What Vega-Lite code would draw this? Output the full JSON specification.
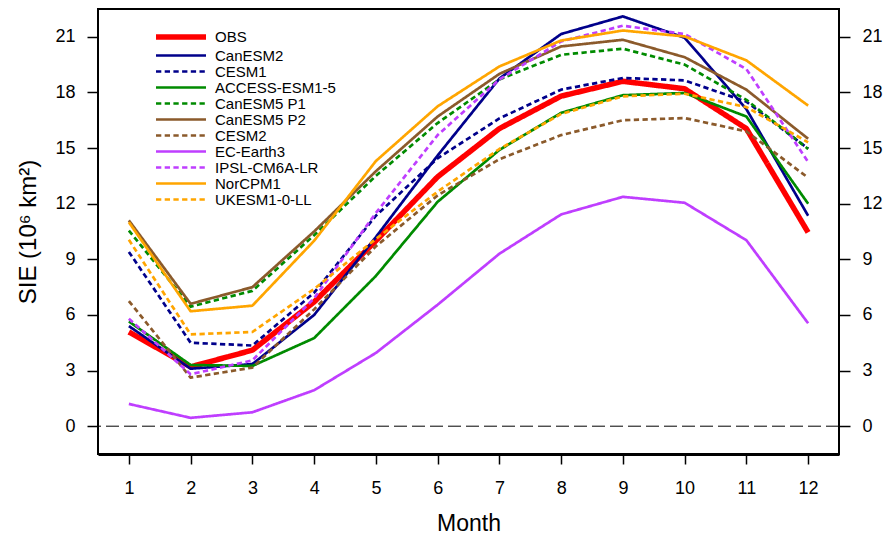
{
  "$schema": "https://vega.github.io/schema/vega-lite/v6.json",
  "width": 741,
  "height": 445,
  "autosize": {"type": "none"},
  "padding": {"left": 98, "top": 9, "right": 52, "bottom": 87},
  "background": "white",
  "config": {
    "font": "Liberation Sans",
    "view": {"stroke": "black", "strokeWidth": 2},
    "axis": {"grid": false, "labelColor": "black", "titleColor": "black", "tickColor": "black", "domainColor": "black", "labelFont": "Liberation Sans", "titleFont": "Liberation Sans", "titleFontWeight": "normal"}
  },
  "datasets": {
    "sie": [
      {"model": "OBS", "month": 1, "sie": 5.08}, {"model": "OBS", "month": 2, "sie": 3.2}, {"model": "OBS", "month": 3, "sie": 4.1}, {"model": "OBS", "month": 4, "sie": 6.7}, {"model": "OBS", "month": 5, "sie": 10.0}, {"model": "OBS", "month": 6, "sie": 13.45}, {"model": "OBS", "month": 7, "sie": 16.05}, {"model": "OBS", "month": 8, "sie": 17.8}, {"model": "OBS", "month": 9, "sie": 18.6}, {"model": "OBS", "month": 10, "sie": 18.2}, {"model": "OBS", "month": 11, "sie": 16.05}, {"model": "OBS", "month": 12, "sie": 10.45},
      {"model": "CanESM2", "month": 1, "sie": 5.4}, {"model": "CanESM2", "month": 2, "sie": 3.1}, {"model": "CanESM2", "month": 3, "sie": 3.35}, {"model": "CanESM2", "month": 4, "sie": 6.0}, {"model": "CanESM2", "month": 5, "sie": 10.2}, {"model": "CanESM2", "month": 6, "sie": 14.6}, {"model": "CanESM2", "month": 7, "sie": 18.75}, {"model": "CanESM2", "month": 8, "sie": 21.15}, {"model": "CanESM2", "month": 9, "sie": 22.1}, {"model": "CanESM2", "month": 10, "sie": 20.95}, {"model": "CanESM2", "month": 11, "sie": 17.1}, {"model": "CanESM2", "month": 12, "sie": 11.35},
      {"model": "CESM1", "month": 1, "sie": 9.4}, {"model": "CESM1", "month": 2, "sie": 4.5}, {"model": "CESM1", "month": 3, "sie": 4.35}, {"model": "CESM1", "month": 4, "sie": 7.2}, {"model": "CESM1", "month": 5, "sie": 11.35}, {"model": "CESM1", "month": 6, "sie": 14.45}, {"model": "CESM1", "month": 7, "sie": 16.6}, {"model": "CESM1", "month": 8, "sie": 18.15}, {"model": "CESM1", "month": 9, "sie": 18.78}, {"model": "CESM1", "month": 10, "sie": 18.65}, {"model": "CESM1", "month": 11, "sie": 17.5}, {"model": "CESM1", "month": 12, "sie": 14.97},
      {"model": "ACCESS-ESM1-5", "month": 1, "sie": 5.65}, {"model": "ACCESS-ESM1-5", "month": 2, "sie": 3.3}, {"model": "ACCESS-ESM1-5", "month": 3, "sie": 3.25}, {"model": "ACCESS-ESM1-5", "month": 4, "sie": 4.75}, {"model": "ACCESS-ESM1-5", "month": 5, "sie": 8.1}, {"model": "ACCESS-ESM1-5", "month": 6, "sie": 12.1}, {"model": "ACCESS-ESM1-5", "month": 7, "sie": 14.9}, {"model": "ACCESS-ESM1-5", "month": 8, "sie": 16.9}, {"model": "ACCESS-ESM1-5", "month": 9, "sie": 17.85}, {"model": "ACCESS-ESM1-5", "month": 10, "sie": 17.97}, {"model": "ACCESS-ESM1-5", "month": 11, "sie": 16.7}, {"model": "ACCESS-ESM1-5", "month": 12, "sie": 12.0},
      {"model": "CanESM5 P1", "month": 1, "sie": 10.55}, {"model": "CanESM5 P1", "month": 2, "sie": 6.45}, {"model": "CanESM5 P1", "month": 3, "sie": 7.3}, {"model": "CanESM5 P1", "month": 4, "sie": 10.3}, {"model": "CanESM5 P1", "month": 5, "sie": 13.5}, {"model": "CanESM5 P1", "month": 6, "sie": 16.35}, {"model": "CanESM5 P1", "month": 7, "sie": 18.7}, {"model": "CanESM5 P1", "month": 8, "sie": 20.03}, {"model": "CanESM5 P1", "month": 9, "sie": 20.36}, {"model": "CanESM5 P1", "month": 10, "sie": 19.5}, {"model": "CanESM5 P1", "month": 11, "sie": 17.6}, {"model": "CanESM5 P1", "month": 12, "sie": 14.95},
      {"model": "CanESM5 P2", "month": 1, "sie": 11.1}, {"model": "CanESM5 P2", "month": 2, "sie": 6.6}, {"model": "CanESM5 P2", "month": 3, "sie": 7.5}, {"model": "CanESM5 P2", "month": 4, "sie": 10.5}, {"model": "CanESM5 P2", "month": 5, "sie": 13.75}, {"model": "CanESM5 P2", "month": 6, "sie": 16.7}, {"model": "CanESM5 P2", "month": 7, "sie": 19.0}, {"model": "CanESM5 P2", "month": 8, "sie": 20.48}, {"model": "CanESM5 P2", "month": 9, "sie": 20.84}, {"model": "CanESM5 P2", "month": 10, "sie": 19.9}, {"model": "CanESM5 P2", "month": 11, "sie": 18.15}, {"model": "CanESM5 P2", "month": 12, "sie": 15.5},
      {"model": "CESM2", "month": 1, "sie": 6.75}, {"model": "CESM2", "month": 2, "sie": 2.62}, {"model": "CESM2", "month": 3, "sie": 3.16}, {"model": "CESM2", "month": 4, "sie": 6.3}, {"model": "CESM2", "month": 5, "sie": 9.7}, {"model": "CESM2", "month": 6, "sie": 12.45}, {"model": "CESM2", "month": 7, "sie": 14.4}, {"model": "CESM2", "month": 8, "sie": 15.7}, {"model": "CESM2", "month": 9, "sie": 16.5}, {"model": "CESM2", "month": 10, "sie": 16.62}, {"model": "CESM2", "month": 11, "sie": 15.9}, {"model": "CESM2", "month": 12, "sie": 13.4},
      {"model": "EC-Earth3", "month": 1, "sie": 1.2}, {"model": "EC-Earth3", "month": 2, "sie": 0.45}, {"model": "EC-Earth3", "month": 3, "sie": 0.75}, {"model": "EC-Earth3", "month": 4, "sie": 1.94}, {"model": "EC-Earth3", "month": 5, "sie": 3.95}, {"model": "EC-Earth3", "month": 6, "sie": 6.55}, {"model": "EC-Earth3", "month": 7, "sie": 9.3}, {"model": "EC-Earth3", "month": 8, "sie": 11.42}, {"model": "EC-Earth3", "month": 9, "sie": 12.37}, {"model": "EC-Earth3", "month": 10, "sie": 12.05}, {"model": "EC-Earth3", "month": 11, "sie": 10.03}, {"model": "EC-Earth3", "month": 12, "sie": 5.55},
      {"model": "IPSL-CM6A-LR", "month": 1, "sie": 5.8}, {"model": "IPSL-CM6A-LR", "month": 2, "sie": 2.8}, {"model": "IPSL-CM6A-LR", "month": 3, "sie": 3.55}, {"model": "IPSL-CM6A-LR", "month": 4, "sie": 6.9}, {"model": "IPSL-CM6A-LR", "month": 5, "sie": 11.5}, {"model": "IPSL-CM6A-LR", "month": 6, "sie": 15.7}, {"model": "IPSL-CM6A-LR", "month": 7, "sie": 18.7}, {"model": "IPSL-CM6A-LR", "month": 8, "sie": 20.75}, {"model": "IPSL-CM6A-LR", "month": 9, "sie": 21.6}, {"model": "IPSL-CM6A-LR", "month": 10, "sie": 21.15}, {"model": "IPSL-CM6A-LR", "month": 11, "sie": 19.26}, {"model": "IPSL-CM6A-LR", "month": 12, "sie": 14.25},
      {"model": "NorCPM1", "month": 1, "sie": 11.0}, {"model": "NorCPM1", "month": 2, "sie": 6.2}, {"model": "NorCPM1", "month": 3, "sie": 6.5}, {"model": "NorCPM1", "month": 4, "sie": 10.0}, {"model": "NorCPM1", "month": 5, "sie": 14.3}, {"model": "NorCPM1", "month": 6, "sie": 17.25}, {"model": "NorCPM1", "month": 7, "sie": 19.4}, {"model": "NorCPM1", "month": 8, "sie": 20.8}, {"model": "NorCPM1", "month": 9, "sie": 21.34}, {"model": "NorCPM1", "month": 10, "sie": 21.02}, {"model": "NorCPM1", "month": 11, "sie": 19.73}, {"model": "NorCPM1", "month": 12, "sie": 17.29},
      {"model": "UKESM1-0-LL", "month": 1, "sie": 10.05}, {"model": "UKESM1-0-LL", "month": 2, "sie": 4.95}, {"model": "UKESM1-0-LL", "month": 3, "sie": 5.08}, {"model": "UKESM1-0-LL", "month": 4, "sie": 7.4}, {"model": "UKESM1-0-LL", "month": 5, "sie": 10.1}, {"model": "UKESM1-0-LL", "month": 6, "sie": 12.65}, {"model": "UKESM1-0-LL", "month": 7, "sie": 14.95}, {"model": "UKESM1-0-LL", "month": 8, "sie": 16.84}, {"model": "UKESM1-0-LL", "month": 9, "sie": 17.79}, {"model": "UKESM1-0-LL", "month": 10, "sie": 17.93}, {"model": "UKESM1-0-LL", "month": 11, "sie": 17.21}, {"model": "UKESM1-0-LL", "month": 12, "sie": 15.31}
    ],
    "zero": [{"value": 0}]
  },
  "layer": [
    {
      "data": {"name": "sie"},
      "mark": {"type": "line", "strokeCap": "butt", "strokeJoin": "round"},
      "encoding": {
        "x": {
          "field": "month", "type": "quantitative",
          "scale": {"domain": [0.5, 12.5], "nice": false, "zero": false},
          "axis": {"values": [1,2,3,4,5,6,7,8,9,10,11,12], "title": "Month", "titleFontSize": 23, "titlePadding": 15, "labelFontSize": 18, "labelPadding": 15, "tickSize": 10, "tickWidth": 1.5, "domain": true, "domainWidth": 3, "labelFlush": false}
        },
        "y": {
          "field": "sie", "type": "quantitative",
          "scale": {"domain": [-1.5, 22.5], "nice": false, "zero": false},
          "axis": {"values": [0,3,6,9,12,15,18,21], "title": "SIE (10⁶ km²)", "titleFontSize": 24, "titlePadding": 14, "labelFontSize": 18, "labelPadding": 12, "tickSize": 11, "tickWidth": 1.5, "domain": false, "labelFlush": false}
        },
        "color": {
          "field": "model", "type": "nominal",
          "scale": {
            "domain": ["OBS", "CanESM2", "CESM1", "ACCESS-ESM1-5", "CanESM5 P1", "CanESM5 P2", "CESM2", "EC-Earth3", "IPSL-CM6A-LR", "NorCPM1", "UKESM1-0-LL"],
            "range": ["#ff0000", "#00008b", "#00008b", "#008b00", "#008b00", "#8b5a2b", "#8b5a2b", "#bf3eff", "#bf3eff", "#ffa500", "#ffa500"]
          },
          "legend": {
            "title": null, "orient": "none", "legendX": 55, "legendY": 20,
            "symbolType": "M-1,0H9", "symbolSize": 100, "labelFontSize": 15, "labelOffset": 46,
            "rowPadding": -0.4, "padding": 0, "labelColor": "black", "labelFont": "Liberation Sans", "symbolOpacity": 1
          }
        },
        "strokeDash": {
          "field": "model", "type": "nominal",
          "scale": {
            "domain": ["OBS", "CanESM2", "CESM1", "ACCESS-ESM1-5", "CanESM5 P1", "CanESM5 P2", "CESM2", "EC-Earth3", "IPSL-CM6A-LR", "NorCPM1", "UKESM1-0-LL"],
            "range": [[1, 0], [1, 0], [5.3, 3.4], [1, 0], [5.3, 3.4], [1, 0], [5.3, 3.4], [1, 0], [5.3, 3.4], [1, 0], [5.3, 3.4]]
          },
          "legend": {
            "title": null, "orient": "none", "legendX": 55, "legendY": 20,
            "symbolType": "M-1,0H9", "symbolSize": 100, "labelFontSize": 15, "labelOffset": 46,
            "rowPadding": -0.4, "padding": 0
          }
        },
        "strokeWidth": {
          "field": "model", "type": "nominal",
          "scale": {
            "type": "ordinal",
            "domain": ["OBS", "CanESM2", "CESM1", "ACCESS-ESM1-5", "CanESM5 P1", "CanESM5 P2", "CESM2", "EC-Earth3", "IPSL-CM6A-LR", "NorCPM1", "UKESM1-0-LL"],
            "range": [5.5, 2.7, 2.7, 2.7, 2.7, 2.7, 2.7, 2.7, 2.7, 2.7, 2.7]
          },
          "legend": {
            "title": null, "orient": "none", "legendX": 55, "legendY": 20,
            "symbolType": "M-1,0H9", "symbolSize": 100, "labelFontSize": 15, "labelOffset": 46,
            "rowPadding": -0.4, "padding": 0
          }
        }
      }
    },
    {
      "data": {"name": "zero"},
      "mark": {"type": "rule", "color": "black", "strokeWidth": 1, "strokeDash": [13, 5]},
      "encoding": {
        "y": {
          "field": "value", "type": "quantitative",
          "scale": {"domain": [-1.5, 22.5], "nice": false, "zero": false},
          "axis": {"orient": "right", "values": [0,3,6,9,12,15,18,21], "title": null, "labelFontSize": 18, "labelPadding": 12, "tickSize": 11, "tickWidth": 1.5, "domain": false, "labelFlush": false}
        }
      }
    }
  ],
  "resolve": {"scale": {"y": "independent"}}
}
